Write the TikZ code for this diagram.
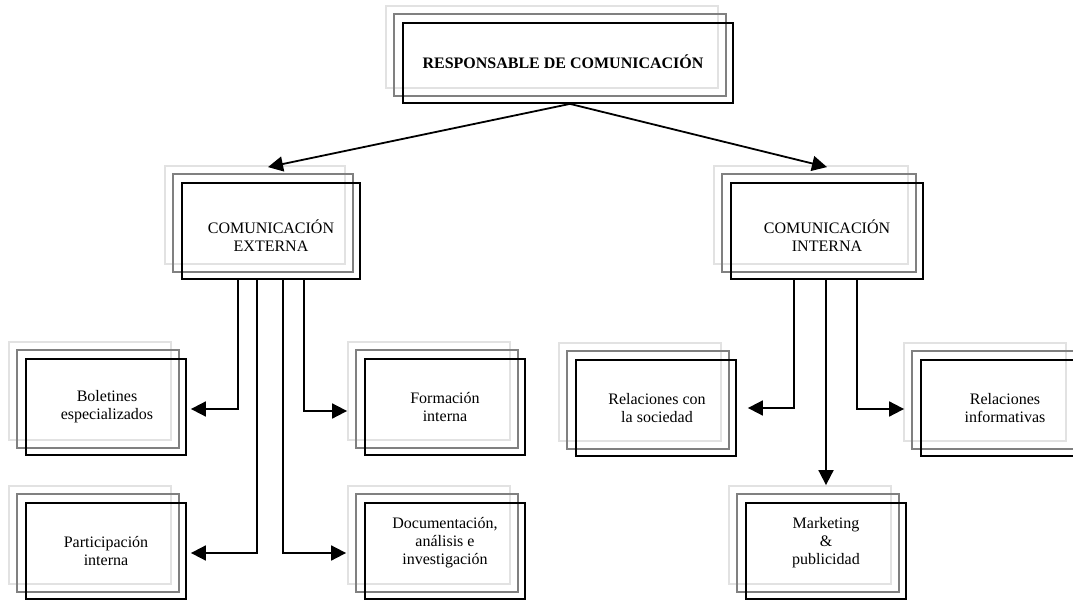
\documentclass[tikz,border=0pt]{standalone}
\usepackage{fontspec}
\setmainfont{Liberation Serif}
\usetikzlibrary{arrows.meta,backgrounds}
\definecolor{framelight}{HTML}{E2E2E2}
\definecolor{framemid}{HTML}{808080}
\tikzset{
  unitbox/.style={draw=black, line width=1.8pt, inner sep=0pt,
    minimum width=160pt, minimum height=96pt},
  label/.style={align=center, inner sep=0pt,
    font=\fontsize{16}{18}\selectfont},
  frameA/.style={draw=framelight, line width=1.8pt},
  frameB/.style={draw=framemid, line width=1.8pt},
  conn/.style={line width=1.8pt, -{Triangle[length=15pt,width=15pt]}},
}
\begin{document}
\begin{tikzpicture}[x=1pt,y=-1pt]
\useasboundingbox (0,0) rectangle (1073,601);

% black outer frames
\node[unitbox, minimum width=330pt, minimum height=80pt] (resp) at (568,63) {};
\node[unitbox, minimum width=178pt] (ext) at (271,231) {};
\node[unitbox, minimum width=192pt] (int) at (827,231) {};
\node[unitbox] (bol)  at (106,407) {};
\node[unitbox] (form) at (445,407) {};
\node[unitbox] (part) at (106,551) {};
\node[unitbox] (doc)  at (445,551) {};
\node[unitbox] (soc)  at (656,408) {};
\node[unitbox] (inf)  at (1001,408) {};
\node[unitbox] (mkt)  at (826,551) {};

% offset light and grey frames behind each box
\begin{scope}[on background layer]
\foreach \n in {resp,ext,int,bol,form,part,doc,soc,inf,mkt}{
  \draw[frameA] ([shift={(-16pt,16pt)}]\n.south west) rectangle ([shift={(-16pt,16pt)}]\n.north east);
  \draw[frameB] ([shift={(-8pt,8pt)}]\n.south west) rectangle ([shift={(-8pt,8pt)}]\n.north east);
}
\end{scope}

% box texts
\node[label, font=\fontsize{16}{18}\selectfont\bfseries] (resp-t) at (563,62) {RESPONSABLE DE COMUNICACIÓN};
\node[label] (ext-t)  at (271,236) {COMUNICACIÓN\\EXTERNA};
\node[label] (int-t)  at (827,236) {COMUNICACIÓN\\INTERNA};
\node[label] (bol-t)  at (107,407) {Boletines\\especializados};
\node[label] (form-t) at (445,407) {Formación\\interna};
\node[label] (part-t) at (106,551) {Participación\\interna};
\node[label] (doc-t)  at (445,543) {Documentación,\\análisis e\\investigación};
\node[label] (soc-t)  at (657,408) {Relaciones con\\la sociedad};
\node[label] (inf-t)  at (1005,408) {Relaciones\\informativas};
\node[label] (mkt-t)  at (826,543) {Marketing\\\&\\publicidad};

% connectors
\draw[conn] ([xshift=2pt]resp.south) -- ([shift={(-3pt,15pt)}]ext.north);
\draw[conn] ([xshift=2pt]resp.south) -- ([yshift=15pt]int.north);

\draw[conn] ([xshift=-33pt]ext.south) |- ([shift={(4pt,-2pt)}]bol.east);
\draw[conn] ([xshift=33pt]ext.south)  |- ([shift={(-17pt,-4pt)}]form.west);
\draw[conn] ([xshift=-14pt]ext.south) |- ([shift={(4pt,-2pt)}]part.east);
\draw[conn] ([xshift=12pt]ext.south)  |- ([shift={(-18pt,-2pt)}]doc.west);

\draw[conn] ([xshift=-33pt]int.south) |- ([xshift=11pt]soc.east);
\draw[conn] ([xshift=30pt]int.south)  |- ([shift={(-16pt,-1pt)}]inf.west);
\draw[conn] ([xshift=-1pt]int.south)  -- ([yshift=17pt]mkt.north);
\end{tikzpicture}
\end{document}
